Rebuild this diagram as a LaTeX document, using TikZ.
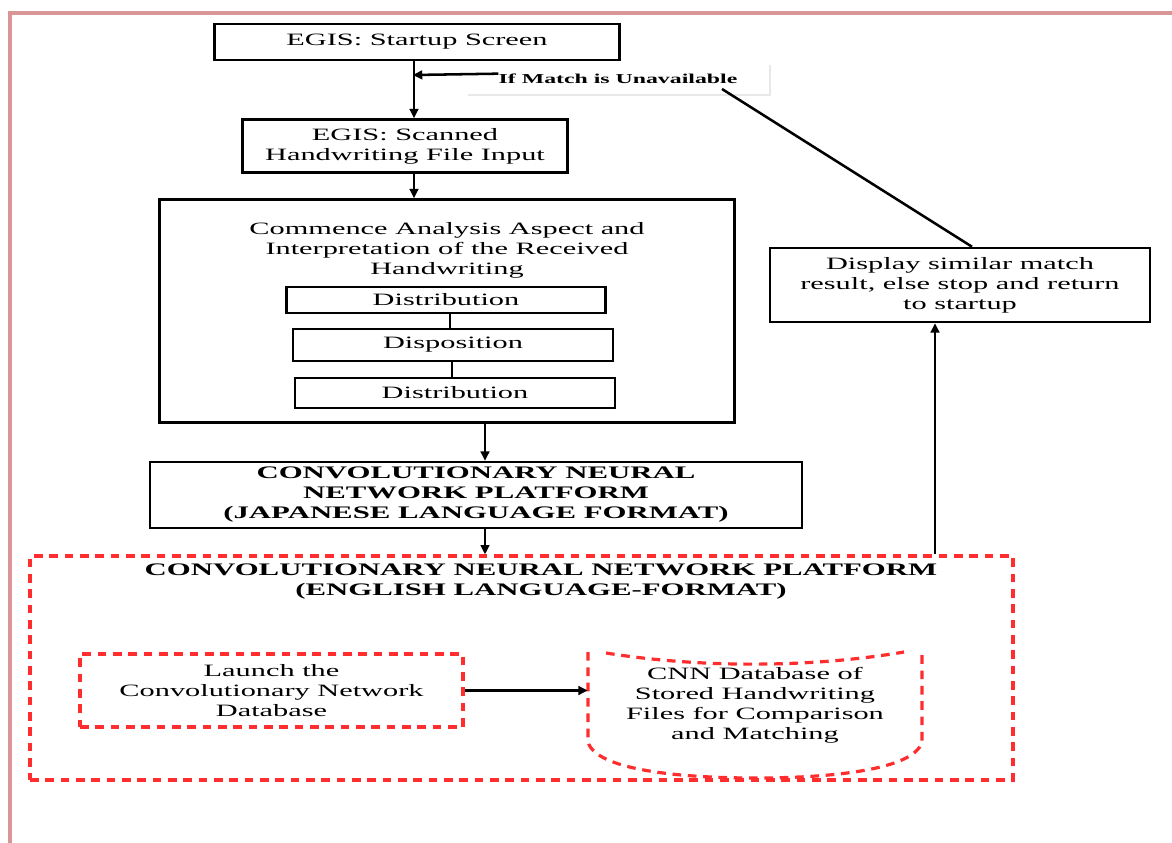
\documentclass[tikz,border=0pt]{standalone}
\usepackage{fontspec}
\setmainfont[FakeStretch=1.75]{Liberation Serif}
\usetikzlibrary{arrows.meta,calc}
\definecolor{framecol}{RGB}{218,150,150}
\definecolor{dred}{RGB}{255,45,45}
\definecolor{faint}{RGB}{232,232,232}
\begin{document}
\begin{tikzpicture}[x=0.75pt,y=-0.75pt,
  txt/.style={font=\fontsize{13}{15}\selectfont},
  btxt/.style={font=\bfseries\fontsize{13.2}{15}\selectfont},
  box/.style={draw,line width=1.9pt,align=center,inner sep=0pt,txt},
  dbox/.style={draw=dred,line width=2.4pt,dash pattern=on 6.5pt off 5pt,align=center,inner sep=0pt,txt},
  arr/.style={line width=1.9pt,-{Triangle[length=7pt,width=6.5pt]}},
  conn/.style={line width=1.9pt}]
\useasboundingbox (0,0) rectangle (1172,843);
\draw[framecol,line width=2.4pt] (10,843) -- (10,13) -- (1172,13);

% spines
\coordinate (spine) at (414,0);
\coordinate (spine2) at (485,0);
\coordinate (spine3) at (935,0);

\node[box,minimum width=303.75pt,minimum height=27pt] (start) at (417,42) {EGIS: Startup Screen};
\node[box,minimum width=243.75pt,minimum height=39.75pt] (scan) at (405,146) {EGIS: Scanned\\Handwriting File Input};
\node[box,minimum width=431.25pt,minimum height=167.25pt] (comm) at (447,311) {};
\node[txt,align=center,inner sep=0pt] (commtxt) at (447,250) {Commence Analysis Aspect and\\Interpretation of the Received\\Handwriting};
\node[box,minimum width=239.25pt,minimum height=19.5pt] (dist1) at (446,300) {Distribution};
\node[box,minimum width=240pt,minimum height=24pt] (disp) at (453,345) {Disposition};
\node[box,minimum width=240pt,minimum height=22.5pt] (dist2) at (455,393) {Distribution};
\node[box,btxt,minimum width=489pt,minimum height=49.5pt] (jap) at (476,495) {CONVOLUTIONARY NEURAL\\NETWORK PLATFORM\\(JAPANESE LANGUAGE FORMAT)};
\node[dbox,minimum width=737.25pt,minimum height=168pt] (eng) at (521.5,668) {};
\node[btxt,align=center,inner sep=0pt] (engtxt) at (541,582) {CONVOLUTIONARY NEURAL NETWORK PLATFORM\\(ENGLISH LANGUAGE-FORMAT)};
\node[dbox,minimum width=287.25pt,minimum height=54.75pt] (launch) at (271.5,690.5) {Launch the\\Convolutionary Network\\Database};
\node[inner sep=0pt,minimum width=250.5pt,minimum height=93pt] (db) at (755,712) {};
\node[txt,align=center,inner sep=0pt] (dbtxt) at (755,705) {CNN Database of\\Stored Handwriting\\Files for Comparison\\and Matching};
\draw[dred,line width=2.4pt,dash pattern=on 6.5pt off 5pt]
  (588,652) -- (588,742) .. controls (596,770) and (680,778) .. (755,778)
  .. controls (830,778) and (914,770) .. (922,742) -- (922,652);
\draw[dred,line width=2.4pt,dash pattern=on 6.5pt off 5pt]
  (606,653) .. controls (700,668) and (810,668) .. (904,652);
\node[box,minimum width=285pt,minimum height=55.5pt] (display) at (960,285) {Display similar match\\result, else stop and return\\to startup};

% label
\draw[faint,line width=0.8pt] (468,95) -- (770,95) -- (770,65);
\node[inner sep=0pt,font=\bfseries\fontsize{10.2}{12}\selectfont] (lbl) at (618,79) {If Match is Unavailable};
\coordinate (lblend) at (722,89);

% connectors
\draw[arr] (start.south -| spine) -- (scan.north -| spine);
\draw[arr] ([yshift=1pt]lbl.west |- 0,75) -- ([xshift=-0.8pt]spine |- 0,75);
\draw[arr] (scan.south -| spine) -- (comm.north -| spine);
\draw[conn] (dist1.south -| 450,0) -- (disp.north -| 450,0);
\draw[conn] (disp.south -| 452,0) -- (dist2.north -| 452,0);
\draw[arr] (comm.south -| spine2) -- (jap.north -| spine2);
\draw[arr] (jap.south -| spine2) -- (eng.north -| spine2);
\draw[arr] (launch.east) -- (launch.east -| db.west);
\draw[arr] (eng.north -| spine3) -- (display.south -| spine3);
\draw[conn] ([xshift=9pt]display.north) -- (lblend);
\end{tikzpicture}
\end{document}
